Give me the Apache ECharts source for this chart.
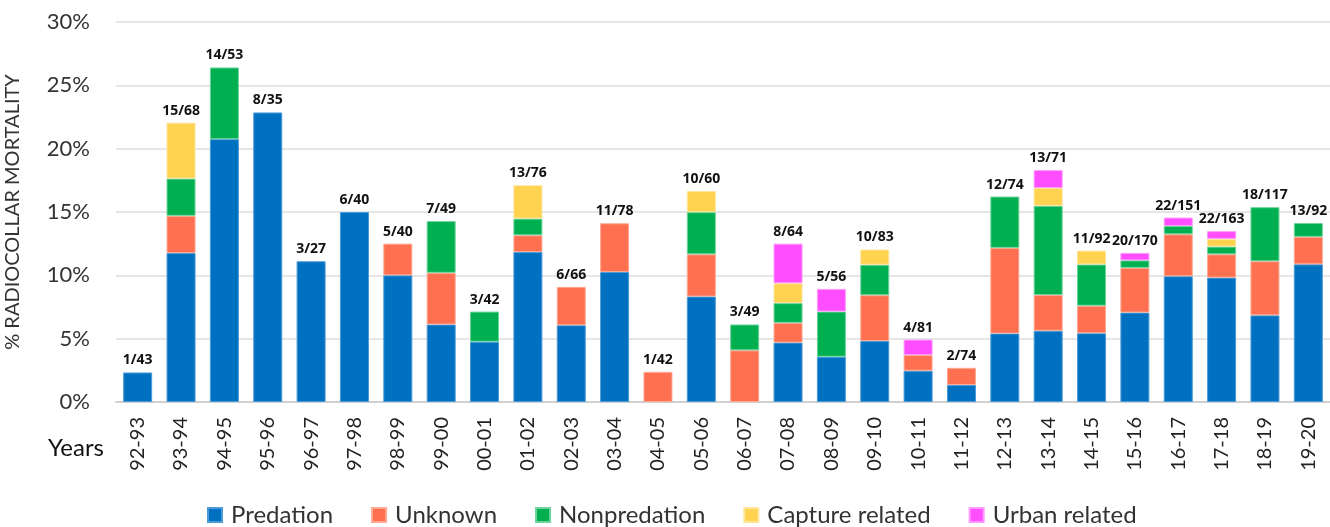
<!DOCTYPE html>
<html>
<head>
<meta charset="utf-8">
<script src="https://cdn.jsdelivr.net/npm/echarts@6/dist/echarts.min.js"></script>
<style>
  html, body { margin: 0; padding: 0; background: #fff; }
  #chart { width: 1330px; height: 527px; }
</style>
</head>
<body>
<div id="chart"></div>
<script>
// 年份
var years = ['92-93','93-94','94-95','95-96','96-97','97-98','98-99','99-00','00-01','01-02',
  '02-03','03-04','04-05','05-06','06-07','07-08','08-09','09-10','10-11','11-12',
  '12-13','13-14','14-15','15-16','16-17','17-18','18-19','19-20'];

// 各死因百分比
var predation    = [2.33,11.76,20.75,22.86,11.11,15.00,10.00,6.12,4.76,11.84,6.06,10.26,0,8.33,0,4.69,3.57,4.82,2.47,1.35,5.41,5.63,5.43,7.06,9.93,9.82,6.84,10.87];
var unknown      = [0,2.94,0,0,0,0,2.50,4.08,0,1.32,3.03,3.85,2.38,3.33,4.08,1.56,0,3.61,1.23,1.35,6.76,2.82,2.17,3.53,3.31,1.84,4.27,2.17];
var nonpredation = [0,2.94,5.66,0,0,0,0,4.08,2.38,1.32,0,0,0,3.33,2.04,1.56,3.57,2.41,0,0,4.05,7.04,3.26,0.59,0.66,0.61,4.27,1.09];
var capture      = [0,4.41,0,0,0,0,0,0,0,2.63,0,0,0,1.67,0,1.56,0,1.20,0,0,0,1.41,1.09,0,0,0.61,0,0];
var urban        = [0,0,0,0,0,0,0,0,0,0,0,0,0,0,0,3.13,1.79,0,1.23,0,0,1.41,0,0.59,0.66,0.61,0,0];

// 柱顶标签
var topLabels = ['1/43','15/68','14/53','8/35','3/27','6/40','5/40','7/49','3/42','13/76',
  '6/66','11/78','1/42','10/60','3/49','8/64','5/56','10/83','4/81','2/74',
  '12/74','13/71','11/92','20/170','22/151','22/163','18/117','13/92'];

var totals = years.map(function(y, i) {
  return predation[i] + unknown[i] + nonpredation[i] + capture[i] + urban[i];
});

var colors = ['#0070C0', '#FF7050', '#00B050', '#FFD24F', '#FF4DFF'];
var borders = ['#4A9BD8', '#FFA893', '#6CD39A', '#FFE49A', '#FF99FF'];
var font = 'Lato';

function makeSeries(name, data, idx) {
  return {
    name: name,
    type: 'bar',
    stack: 'all',
    barWidth: 29,
    // 0 值不画，避免出现细边
    data: data.map(function(v) { return v ? v : '-'; }),
    itemStyle: { color: colors[idx], borderColor: borders[idx], borderWidth: 1 },
    emphasis: { disabled: true }
  };
}

var chart = echarts.init(document.getElementById('chart'));
var option = {
  animation: false,
  grid: { left: 116, right: 0, top: 22, bottom: 125, containLabel: false, outerBoundsMode: 'none' },
  legend: {
    data: ['Predation', 'Unknown', 'Nonpredation', 'Capture related', 'Urban related'],
    left: 202, top: 498,
    itemWidth: 14, itemHeight: 14, itemGap: 38,
    icon: 'rect',
    textStyle: { fontFamily: font, fontSize: 24, color: '#333', padding: [0, 0, 0, 4] }
  },
  xAxis: {
    type: 'category',
    data: years,
    axisLine: { lineStyle: { color: '#d0d0d0', width: 2 } },
    axisTick: { show: false },
    axisLabel: { rotate: 90, fontFamily: font, fontSize: 20, color: '#222', margin: 15 }
  },
  yAxis: {
    type: 'value',
    min: 0, max: 30, interval: 5,
    name: '% RADIOCOLLAR MORTALITY',
    nameLocation: 'middle',
    nameGap: 93,
    nameTextStyle: { fontFamily: font, fontSize: 20, color: '#333' },
    axisLabel: { formatter: '{value}%', fontFamily: font, fontSize: 22, color: '#333', margin: 26 },
    splitLine: { lineStyle: { color: '#e6e6e6', width: 2 } },
    axisLine: { show: false },
    axisTick: { show: false }
  },
  graphic: [{
    type: 'text', left: 48, top: 436,
    style: { text: 'Years', fontFamily: font, fontSize: 24, fill: '#111' }
  }],
  series: [
    makeSeries('Predation', predation, 0),
    makeSeries('Unknown', unknown, 1),
    makeSeries('Nonpredation', nonpredation, 2),
    makeSeries('Capture related', capture, 3),
    makeSeries('Urban related', urban, 4),
    {
      name: 'total',
      type: 'bar',
      barWidth: 29,
      barGap: '-100%',
      z: 1,
      data: totals,
      itemStyle: { color: 'rgba(0,0,0,0)' },
      emphasis: { disabled: true },
      label: {
        show: true, position: 'top', distance: 5,
        fontFamily: 'Open Sans', fontWeight: 'bold', fontSize: 14, color: '#111',
        formatter: function(p) { return topLabels[p.dataIndex]; }
      }
    }
  ]
};
chart.setOption(option);
</script>
</body>
</html>
